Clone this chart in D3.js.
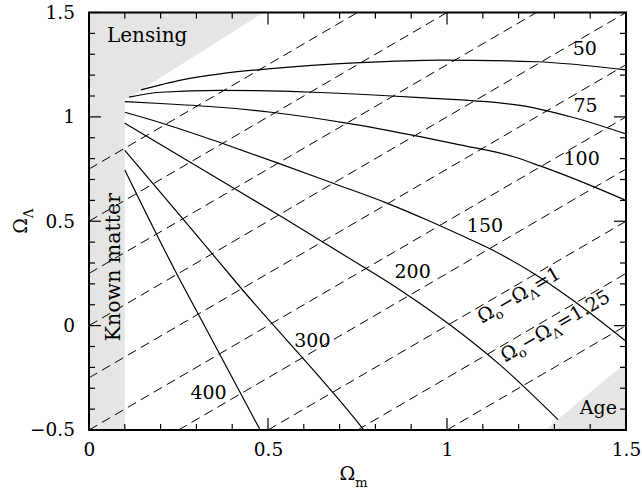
<!DOCTYPE html>
<html>
<head>
<meta charset="utf-8">
<script src="https://cdn.jsdelivr.net/npm/d3@7"></script>
<style>
  body { margin: 0; background: #fff; }
  svg { display: block; }
  text { font-family: "DejaVu Serif", serif; fill: #000; }
</style>
</head>
<body>
<div id="chart"></div>
<script>
// contours, [Omega_m, Omega_Lambda]
const curve50 = [[0.145, 1.129], [0.26, 1.177], [0.366, 1.206], [0.5, 1.230], [0.757, 1.260], [0.98, 1.272], [1.25, 1.264], [1.5, 1.225]]
const curve75 = [[0.112, 1.095], [0.2, 1.118], [0.366, 1.127], [0.626, 1.118], [0.925, 1.092], [1.204, 1.055], [1.35, 0.998], [1.5, 0.918]]
const curve100 = [[0.1, 1.073], [0.2, 1.064], [0.366, 1.046], [0.514, 1.021], [0.72, 0.970], [0.925, 0.905], [1.036, 0.866], [1.184, 0.810], [1.26, 0.765], [1.409, 0.666], [1.5, 0.600]]
const curve150 = [[0.1, 1.022], [0.2, 0.972], [0.366, 0.877], [0.524, 0.781], [0.682, 0.682], [0.832, 0.587], [0.943, 0.507], [1.036, 0.435], [1.12, 0.368], [1.241, 0.251], [1.344, 0.131], [1.5, -0.075]]
const curve200 = [[0.1, 0.970], [0.366, 0.698], [0.552, 0.507], [0.72, 0.330], [0.869, 0.171], [1.008, 0.004], [1.148, -0.188], [1.31, -0.450]]
const curve300 = [[0.1, 0.840], [0.29, 0.455], [0.422, 0.185], [0.762, -0.487], [0.768, -0.5]]
const curve400 = [[0.1, 0.746], [0.254, 0.219], [0.31, 0.040], [0.478, -0.5]]

const curves = [curve50, curve75, curve100, curve150, curve200, curve300, curve400]
const curveNames = ["50", "75", "100", "150", "200", "300", "400"]
const curveLabelAt = [[1.385, 1.331], [1.387, 1.055], [1.376, 0.804], [1.106, 0.482], [0.904, 0.262], [0.624, -0.068], [0.334, -0.320]]

// dashed lines: Omega_m - Omega_Lambda = const
const dashOffsets = [-0.75, -0.5, -0.25, 0, 0.25, 0.5, 0.75, 1.0, 1.25, 1.5]
const dashLabels = [{ c: 1.0, at: 1.075, text: "1" }, { c: 1.25, at: 1.14, text: "1.25" }]

// shaded regions
const knownMatter = [[0, -0.5], [0.1, -0.5], [0.1, 1.5], [0, 1.5]]
const lensing = [[0, 1.08], [0.1, 1.08], [0.487, 1.5], [0, 1.5]]
const ageRegion = [[1.274, -0.5], [1.5, -0.5], [1.5, -0.177]]

const xTicks = [0, 0.5, 1, 1.5]
const yTicks = [-0.5, 0, 0.5, 1, 1.5]

let width = 642, height = 489
let margin = { left: 89, right: 16, top: 12.5, bottom: 59 }
let w = width - margin.left - margin.right,
    h = height - margin.top - margin.bottom

let svg = d3.select("#chart").append("svg")
    .attr("width", width)
    .attr("height", height)

let g = svg.append("g")
    .attr("transform", "translate(" + margin.left + "," + margin.top + ")")

let x = d3.scaleLinear().domain([0, 1.5]).range([0, w])
let y = d3.scaleLinear().domain([-0.5, 1.5]).range([h, 0])

svg.append("defs").append("clipPath").attr("id", "plot")
    .append("rect").attr("width", w).attr("height", h)

let area = g.append("g").attr("clip-path", "url(#plot)")
let poly = pts => pts.map(p => x(p[0]) + "," + y(p[1])).join(" ")
const gray = "#e5e5e5"

area.append("polygon").attr("points", poly(knownMatter)).attr("fill", gray)

// dashed lines
dashOffsets.forEach(c => {
    let x0 = Math.max(0, c - 0.5), x1 = Math.min(1.5, c + 1.5)
    area.append("line")
        .attr("x1", x(x0)).attr("y1", y(x0 - c))
        .attr("x2", x(x1)).attr("y2", y(x1 - c))
        .attr("stroke", "#000")
        .attr("stroke-width", 1)
        .attr("stroke-dasharray", "9.5,5.5")
})

area.append("polygon").attr("points", poly(lensing)).attr("fill", gray)
area.append("polygon").attr("points", poly(ageRegion)).attr("fill", gray)

let line = d3.line()
    .x(d => x(d[0]))
    .y(d => y(d[1]))
    .curve(d3.curveMonotoneX)

curves.forEach(c => {
    area.append("path")
        .attr("d", line(c))
        .attr("fill", "none")
        .attr("stroke", "#000")
        .attr("stroke-width", 1.2)
})

curveNames.forEach((n, i) => {
    g.append("text")
        .attr("x", x(curveLabelAt[i][0]))
        .attr("y", y(curveLabelAt[i][1]))
        .attr("dy", "0.36em")
        .attr("text-anchor", "middle")
        .style("font-size", "19px")
        .text(n)
})

// labels along the dashed lines
let angle = -Math.atan((y(0) - y(1)) / (x(1) - x(0))) * 180 / Math.PI
dashLabels.forEach(d => {
    let t = g.append("text")
        .attr("transform", "translate(" + x(d.at) + "," + y(d.at - d.c) + ") rotate(" + angle + ")")
        .attr("y", 16)
        .style("font-size", "19px")
    t.append("tspan").text("Ω")
    t.append("tspan").attr("dy", 5).style("font-size", "13px").text("o")
    t.append("tspan").attr("dy", -5).text("−Ω")
    t.append("tspan").attr("dy", 5).style("font-size", "13px").text("Λ")
    t.append("tspan").attr("dy", -5).text("=" + d.text)
})

g.append("text").attr("x", 18).attr("y", 29.2).style("font-size", "20px").text("Lensing")
g.append("text").attr("x", w - 9).attr("y", 401.5).attr("text-anchor", "end").style("font-size", "19px").text("Age")
g.append("text")
    .attr("transform", "translate(" + (x(0.1) - 5) + "," + y(0.28) + ") rotate(-90)")
    .attr("text-anchor", "middle")
    .style("font-size", "20.5px")
    .text("Known matter")

// frame
g.append("rect").attr("width", w).attr("height", h)
    .attr("fill", "none").attr("stroke", "#000").attr("stroke-width", 2)

// ticks on all four sides, pointing in
let minor = d3.range(0, 16).map(i => i / 10)
let minorY = d3.range(-5, 16).map(i => i / 10)
let isMajor = v => Math.abs(v * 2 - Math.round(v * 2)) < 1e-6
let ticks = g.append("g").attr("stroke", "#000").attr("stroke-width", 1.2)
minor.forEach(v => {
    let len = isMajor(v) ? 12 : 6
    ticks.append("line").attr("x1", x(v)).attr("x2", x(v)).attr("y1", h).attr("y2", h - len)
    ticks.append("line").attr("x1", x(v)).attr("x2", x(v)).attr("y1", 0).attr("y2", len)
})
minorY.forEach(v => {
    let len = isMajor(v) ? 12 : 6
    ticks.append("line").attr("x1", 0).attr("x2", len).attr("y1", y(v)).attr("y2", y(v))
    ticks.append("line").attr("x1", w).attr("x2", w - len).attr("y1", y(v)).attr("y2", y(v))
})

let fmt = d => (d < 0 ? "−" : "") + Math.abs(d)
let xAxis = g.append("g").attr("transform", "translate(0," + h + ")")
    .call(d3.axisBottom(x).tickValues(xTicks).tickSize(0).tickPadding(13).tickFormat(fmt))
let yAxis = g.append("g")
    .call(d3.axisLeft(y).tickValues(yTicks).tickSize(0).tickPadding(14).tickFormat(fmt))
;[xAxis, yAxis].forEach(a => {
    a.select(".domain").remove()
    a.selectAll("text").style("font-family", '"DejaVu Serif", serif').style("font-size", "18.5px")
})

// axis titles
let xt = svg.append("text").attr("x", margin.left + w / 2 - 4).attr("y", 480)
    .attr("text-anchor", "middle").style("font-size", "19px")
xt.append("tspan").text("Ω")
xt.append("tspan").attr("dy", 7).style("font-size", "13px").text("m")

let yt = svg.append("text")
    .attr("transform", "translate(27," + (margin.top + h / 2) + ") rotate(-90)")
    .attr("text-anchor", "middle").style("font-size", "19px")
yt.append("tspan").text("Ω")
yt.append("tspan").attr("dy", 6).style("font-size", "13px").text("Λ")
</script>
</body>
</html>
